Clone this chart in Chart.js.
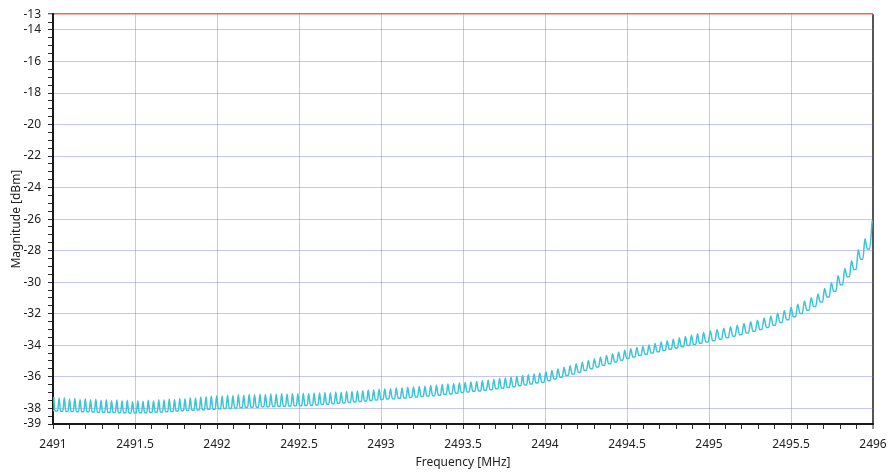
<!DOCTYPE html>
<html>
<head>
<meta charset="utf-8">
<title>Magnitude vs Frequency</title>
<script src="https://cdn.jsdelivr.net/npm/chart.js@4.4.1/dist/chart.umd.min.js"></script>
<style>
  html, body { margin: 0; padding: 0; background: #fff; }
  #wrap { width: 890px; height: 474px; }
</style>
</head>
<body>
<div id="wrap"><canvas id="traceChart" width="890" height="474"></canvas></div>
<script>
// Trace: one peak and the valley just before it, per ripple.
const peakMHz = [
  2491.005, 2491.037, 2491.069, 2491.101, 2491.133, 2491.165, 2491.197, 2491.229, 2491.261, 2491.293,
  2491.325, 2491.357, 2491.389, 2491.421, 2491.453, 2491.485, 2491.517, 2491.549, 2491.581, 2491.613,
  2491.645, 2491.677, 2491.709, 2491.741, 2491.773, 2491.805, 2491.837, 2491.869, 2491.901, 2491.933, 2491.965,
  2491.998, 2492.031, 2492.064, 2492.097, 2492.130, 2492.163, 2492.196, 2492.229, 2492.262, 2492.295,
  2492.328, 2492.361, 2492.394, 2492.427, 2492.460, 2492.493, 2492.526, 2492.559, 2492.592, 2492.625,
  2492.658, 2492.691, 2492.724, 2492.757, 2492.790, 2492.823, 2492.856, 2492.889, 2492.922, 2492.955, 2492.988,
  2493.023, 2493.058, 2493.093, 2493.128, 2493.163, 2493.198, 2493.233, 2493.268, 2493.303, 2493.338,
  2493.373, 2493.408, 2493.443, 2493.478, 2493.513, 2493.548, 2493.583, 2493.618, 2493.653, 2493.688,
  2493.723, 2493.758, 2493.793, 2493.828, 2493.863, 2493.898, 2493.933, 2493.968,
  2494.005, 2494.042, 2494.079, 2494.116, 2494.153, 2494.190, 2494.227, 2494.264, 2494.301, 2494.338,
  2494.375, 2494.412, 2494.449, 2494.486, 2494.523, 2494.560, 2494.597, 2494.634, 2494.671, 2494.708,
  2494.745, 2494.782, 2494.819, 2494.856, 2494.893, 2494.930, 2494.967,
  2495.008, 2495.049, 2495.090, 2495.131, 2495.172, 2495.213, 2495.254, 2495.295, 2495.336, 2495.377,
  2495.418, 2495.459, 2495.500, 2495.541, 2495.582, 2495.623, 2495.664, 2495.705, 2495.746, 2495.787,
  2495.828, 2495.869, 2495.910, 2495.951, 2495.995
];
const peakDbm = [
  -37.28, -37.35, -37.33, -37.42, -37.38, -37.44, -37.40, -37.46, -37.43, -37.50,
  -37.46, -37.52, -37.48, -37.53, -37.50, -37.57, -37.52, -37.55, -37.49, -37.52,
  -37.46, -37.48, -37.42, -37.45, -37.38, -37.40, -37.33, -37.35, -37.28, -37.27, -37.22,
  -37.20, -37.22, -37.18, -37.19, -37.15, -37.17, -37.13, -37.15, -37.11, -37.13,
  -37.09, -37.11, -37.08, -37.10, -37.06, -37.08, -37.05, -37.06, -37.03, -37.04,
  -37.00, -37.01, -36.97, -36.98, -36.94, -36.94, -36.90, -36.89, -36.85, -36.84, -36.80,
  -36.78, -36.76, -36.72, -36.71, -36.67, -36.65, -36.62, -36.60, -36.56, -36.54,
  -36.50, -36.47, -36.44, -36.40, -36.37, -36.33, -36.30, -36.26, -36.22, -36.17,
  -36.12, -36.08, -36.03, -35.98, -35.93, -35.88, -35.82, -35.76,
  -35.69, -35.60, -35.51, -35.40, -35.30, -35.18, -35.08, -34.97, -34.87, -34.76,
  -34.66, -34.55, -34.44, -34.32, -34.23, -34.14, -34.06, -33.98, -33.89, -33.80,
  -33.72, -33.62, -33.54, -33.45, -33.37, -33.28, -33.20,
  -33.10, -33.01, -32.92, -32.83, -32.73, -32.63, -32.52, -32.41, -32.28, -32.14,
  -31.98, -31.80, -31.60, -31.40, -31.19, -30.99, -30.75, -30.41, -30.04, -29.60,
  -29.14, -28.65, -27.95, -27.25, -26.10
];
const valleyMHz = [
  2491.000, 2491.021, 2491.053, 2491.085, 2491.117, 2491.149, 2491.181, 2491.213, 2491.245, 2491.277,
  2491.309, 2491.341, 2491.373, 2491.405, 2491.437, 2491.469, 2491.501, 2491.533, 2491.565, 2491.597,
  2491.629, 2491.661, 2491.693, 2491.725, 2491.757, 2491.789, 2491.821, 2491.853, 2491.885, 2491.917, 2491.949,
  2491.982, 2492.015, 2492.048, 2492.081, 2492.114, 2492.147, 2492.180, 2492.213, 2492.246, 2492.279,
  2492.312, 2492.345, 2492.378, 2492.411, 2492.444, 2492.477, 2492.510, 2492.543, 2492.576, 2492.609,
  2492.642, 2492.675, 2492.708, 2492.741, 2492.774, 2492.807, 2492.840, 2492.873, 2492.906, 2492.939, 2492.972,
  2493.006, 2493.041, 2493.076, 2493.111, 2493.146, 2493.181, 2493.216, 2493.251, 2493.286, 2493.321,
  2493.356, 2493.391, 2493.426, 2493.461, 2493.496, 2493.531, 2493.566, 2493.601, 2493.636, 2493.671,
  2493.706, 2493.741, 2493.776, 2493.811, 2493.846, 2493.881, 2493.916, 2493.951,
  2493.987, 2494.024, 2494.061, 2494.098, 2494.135, 2494.172, 2494.209, 2494.246, 2494.283, 2494.320,
  2494.357, 2494.394, 2494.431, 2494.468, 2494.505, 2494.542, 2494.579, 2494.616, 2494.653, 2494.690,
  2494.727, 2494.764, 2494.801, 2494.838, 2494.875, 2494.912, 2494.949,
  2494.988, 2495.029, 2495.070, 2495.111, 2495.152, 2495.193, 2495.234, 2495.275, 2495.316, 2495.357,
  2495.398, 2495.439, 2495.480, 2495.521, 2495.562, 2495.603, 2495.644, 2495.685, 2495.726, 2495.767,
  2495.808, 2495.849, 2495.890, 2495.931, 2495.972
];
const valleyDbm = [
  -38.15, -38.18, -38.19, -38.20, -38.21, -38.22, -38.22, -38.23, -38.24, -38.25,
  -38.26, -38.27, -38.27, -38.28, -38.29, -38.30, -38.30, -38.29, -38.28, -38.27,
  -38.25, -38.24, -38.22, -38.20, -38.18, -38.16, -38.14, -38.13, -38.11, -38.09, -38.07,
  -38.06, -38.04, -38.02, -38.00, -37.99, -37.97, -37.96, -37.94, -37.93, -37.91,
  -37.90, -37.89, -37.88, -37.87, -37.86, -37.85, -37.84, -37.83, -37.81, -37.79,
  -37.76, -37.74, -37.71, -37.68, -37.66, -37.63, -37.60, -37.57, -37.54, -37.51, -37.48,
  -37.45, -37.42, -37.40, -37.37, -37.35, -37.32, -37.29, -37.26, -37.23, -37.20,
  -37.17, -37.13, -37.09, -37.05, -37.00, -36.97, -36.93, -36.90, -36.86, -36.82,
  -36.77, -36.73, -36.68, -36.63, -36.58, -36.53, -36.47, -36.40,
  -36.36, -36.25, -36.14, -36.04, -35.93, -35.82, -35.71, -35.61, -35.50, -35.39,
  -35.28, -35.17, -35.06, -34.95, -34.84, -34.75, -34.66, -34.58, -34.50, -34.42,
  -34.34, -34.26, -34.18, -34.10, -34.02, -33.95, -33.88,
  -33.80, -33.72, -33.62, -33.53, -33.43, -33.34, -33.23, -33.12, -33.00, -32.87,
  -32.73, -32.56, -32.39, -32.20, -31.99, -31.78, -31.54, -31.26, -30.95, -30.58,
  -30.16, -29.66, -29.20, -28.55, -27.90
];

// axes
const xMin = 2491, xMax = 2496;
const xMajorTicks = [2491, 2491.5, 2492, 2492.5, 2493, 2493.5, 2494, 2494.5, 2495, 2495.5, 2496];
const xMinorStep = 0.1;
const yMin = -39, yMax = -13;
const yTickLabels = [-13, -14, -16, -18, -20, -22, -24, -26, -28, -30, -32, -34, -36, -38, -39];
const yGridLines = [-14, -16, -18, -20, -22, -24, -26, -28, -30, -32, -34, -36, -38];
const yMinorStep = 0.5;

// each valley is drawn as a short flat floor so the ripples read as spikes
const floorHalfWidth = 0.007;

const gridColor = 'rgba(118, 118, 222, 0.42)';
const textColor = '#1e1e1e';
const fontFamily = '"Noto Sans", "Open Sans", sans-serif';

function near(a, b) {
    return Math.abs(a - b) < 1e-6;
}

function buildTrace() {
    const pts = [];
    for (let i = 0; i < peakMHz.length; i++) {
        pts.push({ x: valleyMHz[i] - floorHalfWidth, y: valleyDbm[i] });
        pts.push({ x: valleyMHz[i] + floorHalfWidth, y: valleyDbm[i] });
        pts.push({ x: peakMHz[i], y: peakDbm[i] });
    }
    return pts;
}

function stepTicks(min, max, step) {
    const n = Math.round((max - min) / step);
    const ticks = [];
    for (let i = 0; i <= n; i++) {
        ticks.push({ value: Math.round((min + i * step) * 1000) / 1000 });
    }
    return ticks;
}

const ctx = document.getElementById('traceChart');

new Chart(ctx, {
    type: 'line',
    data: {
        datasets: [
            {
                data: buildTrace(),
                borderColor: '#3ec4d7',
                borderWidth: 1.5,
                pointRadius: 0,
                cubicInterpolationMode: 'monotone',
                fill: false,
            },
        ],
    },
    options: {
        responsive: false,
        animation: false,
        devicePixelRatio: 1,
        layout: {
            padding: { top: 13, right: 17, left: 0, bottom: 0 },
        },
        plugins: {
            legend: { display: false },
            tooltip: { enabled: false },
        },
        scales: {
            x: {
                type: 'linear',
                min: xMin,
                max: xMax,
                afterBuildTicks: (scale) => {
                    scale.ticks = stepTicks(xMin, xMax, xMinorStep);
                },
                afterFit: (scale) => {
                    scale.height = 50;
                    // last label may hang over the frame, as in the original
                    scale.paddingRight = 0;
                    scale.paddingLeft = 0;
                },
                ticks: {
                    autoSkip: false,
                    maxRotation: 0,
                    padding: 8,
                    color: textColor,
                    font: { family: fontFamily, size: 12 },
                    callback: (value) => {
                        const major = xMajorTicks.find((m) => near(m, value));
                        return major !== undefined ? String(major) : '';
                    },
                },
                grid: {
                    color: (c) => {
                        const v = c.tick ? c.tick.value : null;
                        if (v === null) return 'rgba(0,0,0,0)';
                        if (near(v, xMax)) return '#555';
                        if (near(v, xMin)) return 'rgba(0,0,0,0)';
                        return xMajorTicks.some((m) => near(m, v)) ? gridColor : 'rgba(0,0,0,0)';
                    },
                    lineWidth: (c) => (c.tick && near(c.tick.value, xMax) ? 2 : 1),
                    tickColor: '#2a2a2a',
                    tickLength: 5,
                    tickWidth: 1,
                },
                border: { color: '#1a1a1a', width: 2 },
                title: {
                    display: true,
                    text: 'Frequency [MHz]',
                    color: textColor,
                    font: { family: fontFamily, size: 12 },
                    padding: { top: 0, bottom: 4 },
                },
            },
            y: {
                type: 'linear',
                min: yMin,
                max: yMax,
                afterBuildTicks: (scale) => {
                    scale.ticks = stepTicks(yMin, yMax, yMinorStep);
                },
                afterFit: (scale) => {
                    scale.width = 53;
                },
                ticks: {
                    autoSkip: false,
                    padding: 7,
                    color: textColor,
                    font: { family: fontFamily, size: 12 },
                    callback: (value) => (yTickLabels.some((t) => near(t, value)) ? String(value) : ''),
                },
                grid: {
                    color: (c) => {
                        const v = c.tick ? c.tick.value : null;
                        if (v === null) return 'rgba(0,0,0,0)';
                        if (near(v, yMax)) return 'rgba(226, 88, 88, 0.9)';
                        return yGridLines.some((g) => near(g, v)) ? gridColor : 'rgba(0,0,0,0)';
                    },
                    lineWidth: (c) => (c.tick && near(c.tick.value, yMax) ? 1.5 : 1),
                    tickColor: '#2a2a2a',
                    tickLength: 5,
                    tickWidth: 1,
                },
                border: { color: '#1a1a1a', width: 2 },
                title: {
                    display: true,
                    text: 'Magnitude [dBm]',
                    color: textColor,
                    font: { family: fontFamily, size: 12 },
                    padding: { top: 9, bottom: 0 },
                },
            },
        },
    },
});
</script>
</body>
</html>
